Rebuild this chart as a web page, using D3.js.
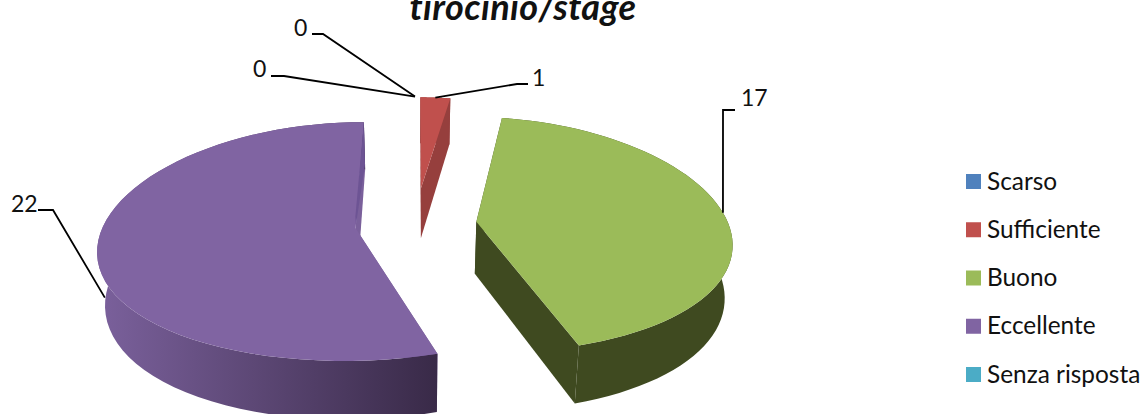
<!DOCTYPE html>
<html>
<head>
<meta charset="utf-8">
<style>
  html, body { margin: 0; padding: 0; background: #fff; overflow: hidden; }
  text { font-family: Lato, "Open Sans", sans-serif; fill: #111; }
</style>
<script src="https://cdn.jsdelivr.net/npm/d3@7"></script>
</head>
<body>
<svg id="chart" width="1144" height="414"></svg>
<script>
var titleText = "tirocinio/stage";
var categories = ["Scarso", "Sufficiente", "Buono", "Eccellente", "Senza risposta"];
var values = [0, 1, 17, 22, 0];
var colors = ["#4f81bd", "#c0504d", "#9bbb59", "#8064a2", "#4bacc6"];
var wallLeft = ["#4f81bd", "#963f3d", "#3f4a20", "#7a609b", "#4bacc6"];
var wallRight = ["#4f81bd", "#963f3d", "#3f4a20", "#392a48", "#4bacc6"];

var svg = d3.select("#chart");
var perspX = 0.16, perspY = 0.11, thickness = 52, taper = 0.025;
// the small slice sits further out and looks a little shorter
var explodeBy = [0.237, 0.32, 0.245, 0.237, 0.237];
var radiusBy = [1, 0.91, 1, 1, 1];

// plane coords -> screen, with a bit of perspective
var sx = d3.scaleLinear().domain([-1, 1]).range([415 - 252, 415 + 252]);
var sy = d3.scaleLinear().domain([-1, 1]).range([224 + 117, 224 - 117]);

function project(d, angle, r, h) {
  var mid = (d.startAngle + d.endAngle) / 2;
  var e = explodeBy[d.index], rr = r * radiusBy[d.index];
  var X = e * Math.sin(mid) + rr * Math.sin(angle);
  var Z = e * Math.cos(mid) + rr * Math.cos(angle);
  var s = 1 / (1 + perspY * Z);
  return [
    sx(X / (1 + perspX * Z) * (1 - taper * h)),
    sy(Z * s) + thickness * h * s
  ];
}

var line = d3.line();
var arcs = d3.pie().sort(null).startAngle(0).endAngle(2 * Math.PI)(values);

function arcAngles(d) {
  return d3.range(0, 61).map(function (i) {
    return d.startAngle + (d.endAngle - d.startAngle) * i / 60;
  });
}

var defs = svg.append("defs");
arcs.forEach(function (d, i) {
  var g = defs.append("linearGradient")
    .attr("id", "wall" + i)
    .attr("gradientUnits", "userSpaceOnUse")
    .attr("x1", project(d, 1.5 * Math.PI, 1, 0)[0]).attr("y1", 0)
    .attr("x2", project(d, Math.PI * 0.9, 1, 0)[0]).attr("y2", 0);
  g.append("stop").attr("offset", 0).attr("stop-color", wallLeft[i]);
  g.append("stop").attr("offset", 1).attr("stop-color", wallRight[i]);
});

// back to front, zero slices have nothing to draw
arcs.forEach(function (d, i) {
  if (d.value === 0) return;
  var angles = arcAngles(d);
  var topArc = angles.map(function (a) { return project(d, a, 1, 0); });
  var lowArc = angles.map(function (a) { return project(d, a, 1, 1); }).reverse();

  [d.startAngle, d.endAngle].forEach(function (a) {
    var face = [project(d, a, 0, 0), project(d, a, 1, 0), project(d, a, 1, 1), project(d, a, 0, 1)];
    svg.append("path").attr("d", line(face) + "Z").attr("fill", wallLeft[i]);
  });

  svg.append("path").attr("d", line(topArc.concat(lowArc)) + "Z").attr("fill", "url(#wall" + i + ")");

  var top = [project(d, 0, 0, 0)].concat(topArc);
  svg.append("path").attr("d", line(top) + "Z").attr("fill", colors[i]);
});

// the darker sliver along the last edge of the big slice
var big = arcs[3];
svg.append("path")
  .attr("d", line([project(big, big.endAngle, 1, 0), project(big, big.endAngle, 1, 0.9), project(big, big.endAngle, 0.03, 0), project(big, big.endAngle - 0.05, 0.1, 0)]) + "Z")
  .attr("fill", "#6d5494");

// data labels with leader lines
var labelAt = [[294, 36], [532, 86], [741, 106], [11, 212], [253, 77]];
var elbows = [[[312, 34], [323, 34]], [[528, 84], [517, 84]], [[735, 110], [723, 110]], [[38, 210], [53, 210]], [[271, 76], [284, 76]]];
var anchorDepth = [0, 0, 0, 0.95, 0];

arcs.forEach(function (d, i) {
  var mid = (d.startAngle + d.endAngle) / 2;
  var end = project(d, mid, 1, anchorDepth[i]);
  svg.append("path")
    .attr("d", line(elbows[i].concat([end])))
    .attr("fill", "none").attr("stroke", "#000").attr("stroke-width", 1.8);
  svg.append("text").attr("x", labelAt[i][0]).attr("y", labelAt[i][1])
    .style("font-size", "23px").text(d.value);
});

svg.append("text").attr("x", 523).attr("y", 19.5).attr("text-anchor", "middle")
  .style("font-size", "36px").style("font-weight", "bold").style("font-style", "italic")
  .style("letter-spacing", "0.4px")
  .text(titleText);

// legend
var rowY = d3.scalePoint().domain(categories).range([181.5, 374.5]);
var legend = svg.selectAll("g.legend").data(categories).enter().append("g").attr("class", "legend");
legend.append("rect")
  .attr("x", 966).attr("y", function (d) { return rowY(d) - 7.5; })
  .attr("width", 15).attr("height", 15)
  .attr("fill", function (d, i) { return colors[i]; });
legend.append("text")
  .attr("x", 987).attr("y", function (d) { return rowY(d) + 8; })
  .style("font-size", "24.4px")
  .text(function (d) { return d; });
</script>
</body>
</html>
